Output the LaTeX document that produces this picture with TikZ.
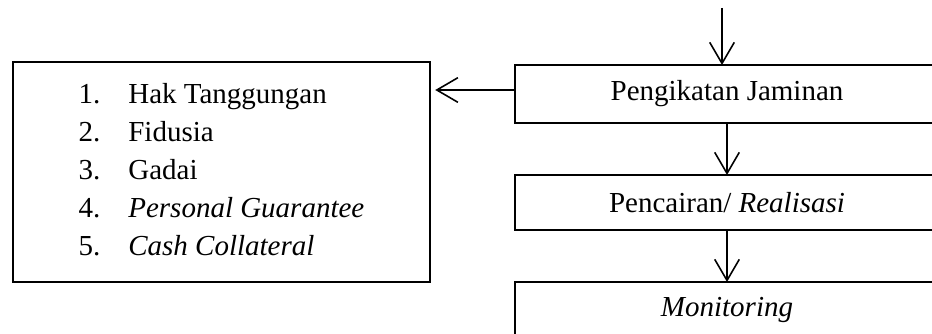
\documentclass[tikz,border=0pt]{standalone}
\usepackage{fontspec}
\setmainfont{Liberation Serif}
\usepackage{tikz}
\usetikzlibrary{arrows.meta,positioning}

\begin{document}
\begin{tikzpicture}[x=0.02cm,y=-0.02cm,
  every node/.style={font=\fontsize{16.5}{21.6}\selectfont,align=center},
  flowbox/.style={draw,line width=0.9pt,inner sep=0pt,outer sep=0pt,minimum width=8.48cm},
  flowarrow/.style={line width=0.9pt,-{Straight Barb[length=12pt,width=14pt,line width=0.9pt]}}]
  \useasboundingbox (0,0) rectangle (932,334);
  % right column
  \node[flowbox,minimum height=1.16cm] (jaminan) at (727,94) {Pengikatan Jaminan};
  \node[flowbox,minimum height=1.1cm] (pencairan) at (727,202.5) {Pencairan/ \textit{Realisasi}};
  \node[flowbox,minimum height=1.1cm] (monitoring) at (727,309.5) {\textit{Monitoring}};
  % left box
  \node[draw,line width=0.9pt,inner sep=0pt,outer sep=0pt,minimum width=8.34cm,minimum height=4.4cm] (jenis) at (221.5,172)
    {\begin{tabular}{@{}l@{\hspace{15.9pt}}l@{}}
      1. & Hak Tanggungan\\
      2. & Fidusia\\
      3. & Gadai\\
      4. & \textit{Personal Guarantee}\\
      5. & \textit{Cash Collateral}
    \end{tabular}};
  \coordinate (masuk) at (722,8);
  \draw[flowarrow] (masuk) -- (masuk |- jaminan.north);
  \draw[flowarrow] (jaminan) -- (pencairan);
  \draw[flowarrow] (pencairan) -- (monitoring);
  \draw[flowarrow,shorten >=3pt] ([yshift=0.08cm]jaminan.west) -- ([yshift=0.08cm]jaminan.west -| jenis.east);
\end{tikzpicture}
\end{document}
